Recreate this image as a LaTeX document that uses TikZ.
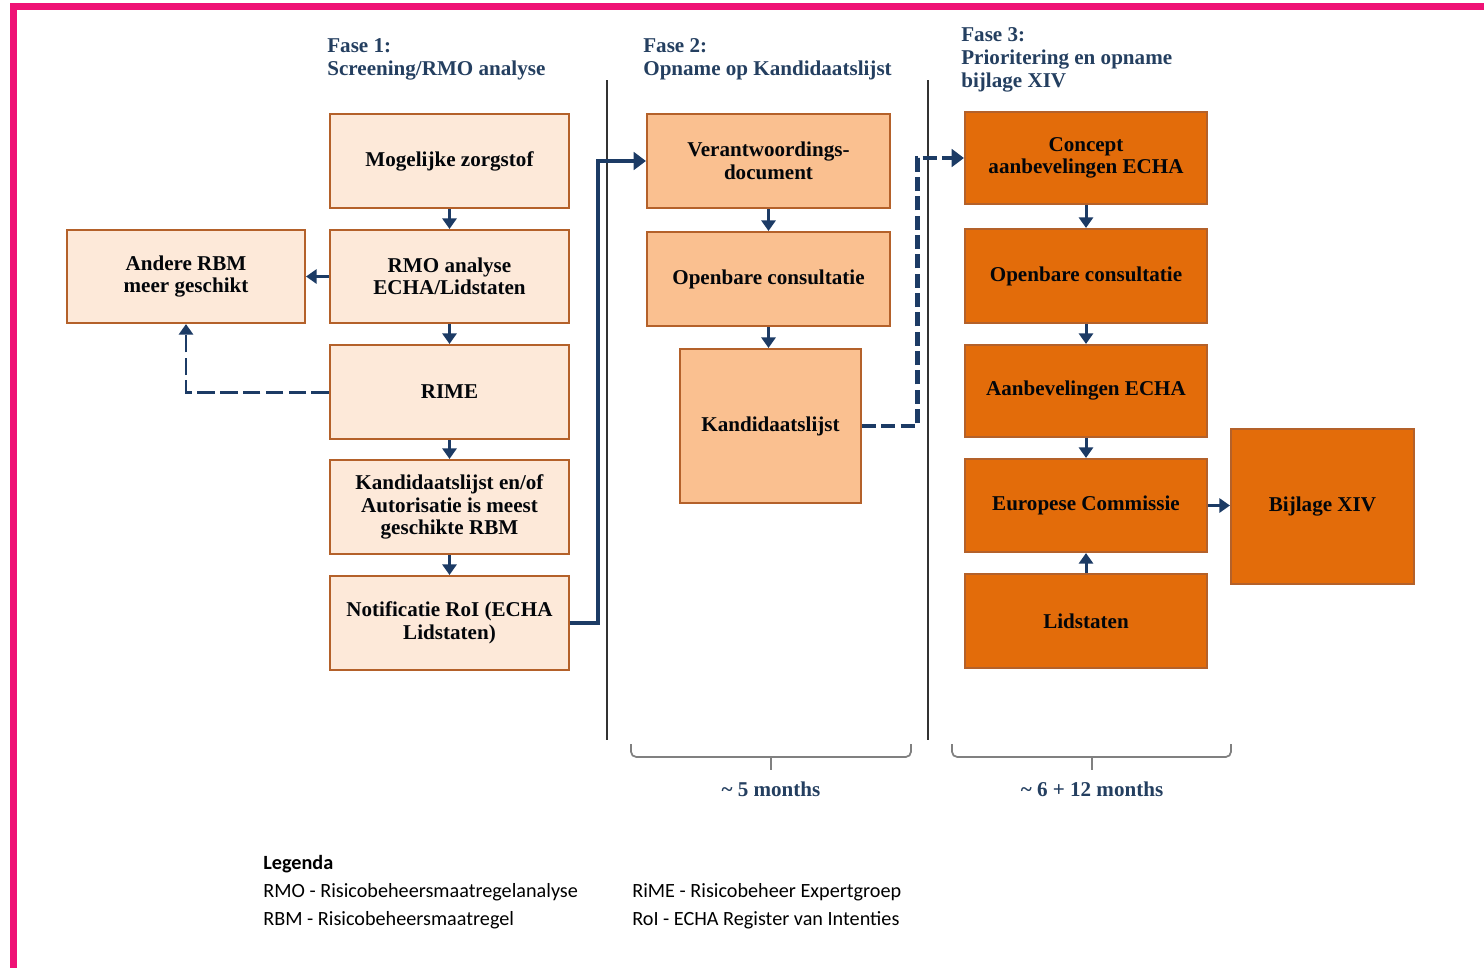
\documentclass[tikz,border=0pt]{standalone}
\usepackage{fontspec}
\setmainfont{Liberation Serif}
\newfontfamily\legendfont{Carlito}
\usepackage{tikz}
\usetikzlibrary{arrows.meta}

\definecolor{lightfill}{HTML}{FDE9D9}
\definecolor{midfill}{HTML}{FAC090}
\definecolor{darkfill}{HTML}{E36C0A}
\definecolor{boxline}{HTML}{B4612A}
\definecolor{navy}{HTML}{1C3B65}
\definecolor{headnavy}{HTML}{243F60}
\definecolor{framepink}{HTML}{EF1275}

\tikzset{
  box/.style={draw=boxline, line width=1.2pt, align=center, inner sep=2pt,
    font=\fontsize{12}{12.8}\selectfont\bfseries, text=black!90!navy},
  pale/.style={box, fill=lightfill},
  mid/.style={box, fill=midfill},
  dark/.style={box, fill=darkfill},
  arr/.style={navy, line width=1.7pt, -{Triangle[length=6pt,width=8pt]}},
  dasharr/.style={arr, dash pattern=on 10pt off 3pt},
  bigarr/.style={navy, line width=2.8pt, -{Triangle[length=7pt,width=10pt]}},
  bigdash/.style={bigarr, dash pattern=on 8pt off 3pt},
  head/.style={anchor=north west, align=left, text=headnavy, inner sep=0pt,
    font=\fontsize{12}{13.2}\selectfont\bfseries},
  brace/.style={gray, line width=1pt, rounded corners=3pt},
  legend/.style={anchor=west, inner sep=0pt, font=\legendfont\fontsize{11.5}{13}\selectfont}
}

\begin{document}
\begin{tikzpicture}[x=0.02cm, y=-0.02cm]
            \useasboundingbox (0,0) rectangle (1484,968);
            % frame
            \fill[framepink] (10,3) rectangle (1484,10);
            \fill[framepink] (10,3) rectangle (17,968);

            % phase headings
            \node[head] (fase1) at (327,38) {Fase 1:\\Screening/RMO analyse};
            \node[head] (fase2) at (643,38) {Fase 2:\\Opname op Kandidaatslijst};
            \node[head] (fase3) at (961,27) {Fase 3:\\Prioritering en opname\\bijlage XIV};

            % separators
            \draw[black!80, line width=1.1pt] (607,80) -- (607,740);
            \draw[black!80, line width=1.1pt] (928,80) -- (928,740);

            % fase 1
            \node[pale, minimum width=4.78cm, minimum height=1.88cm] (zorgstof) at (449.5,161) {Mogelijke zorgstof};
            \node[pale, minimum width=4.78cm, minimum height=1.86cm] (rmo) at (449.5,276.5) {RMO analyse\\ECHA/Lidstaten};
            \node[pale, minimum width=4.78cm, minimum height=1.88cm] (rime) at (449.5,392) {RIME};
            \node[pale, minimum width=4.78cm, minimum height=1.88cm] (kandauto) at (449.5,507) {Kandidaatslijst en/of\\Autorisatie is meest\\geschikte RBM};
            \node[pale, minimum width=4.78cm, minimum height=1.88cm] (notif) at (449.5,623) {Notificatie RoI (ECHA\\Lidstaten)};
            \node[pale, minimum width=4.76cm, minimum height=1.86cm] (andere) at (186,276.5) {Andere RBM\\meer geschikt};

            % fase 2
            \node[mid, minimum width=4.86cm, minimum height=1.88cm] (verant) at (768.5,161) {Verantwoordings-\\document};
            \node[mid, minimum width=4.86cm, minimum height=1.88cm] (consult2) at (768.5,279) {Openbare consultatie};
            \node[mid, minimum width=3.62cm, minimum height=3.08cm] (kandlijst) at (770.5,426) {Kandidaatslijst};

            % fase 3
            \node[dark, minimum width=4.84cm, minimum height=1.84cm] (concept) at (1086,158) {Concept\\aanbevelingen ECHA};
            \node[dark, minimum width=4.84cm, minimum height=1.88cm] (consult3) at (1086,276) {Openbare consultatie};
            \node[dark, minimum width=4.84cm, minimum height=1.84cm] (aanbev) at (1086,391) {Aanbevelingen ECHA};
            \node[dark, minimum width=4.84cm, minimum height=1.86cm] (ec) at (1086,505.5) {Europese Commissie};
            \node[dark, minimum width=4.84cm, minimum height=1.88cm] (lidstaten) at (1086,621) {Lidstaten};
            \node[dark, minimum width=3.66cm, minimum height=3.1cm] (bijlage) at (1322.5,506.5) {Bijlage XIV};

            % arrows
            \draw[arr] (zorgstof) -- (rmo);
            \draw[arr] (rmo) -- (rime);
            \draw[arr] (rime) -- (kandauto);
            \draw[arr] (kandauto) -- (notif);
            \draw[arr] (rmo) -- (andere);
            \draw[dasharr] (rime.west) -| (andere.south);
            \draw[bigarr] (notif.east) -- ++(28,0) |- (verant.west);
            \draw[arr] (verant) -- (consult2);
            \draw[arr] (consult2.south) -- (consult2.south |- kandlijst.north);
            \draw[bigdash] (kandlijst.east) -- ++(55,0) |- (concept.west);
            \draw[arr] (concept) -- (consult3);
            \draw[arr] (consult3) -- (aanbev);
            \draw[arr] (aanbev) -- (ec);
            \draw[arr] (lidstaten) -- (ec);
            \draw[arr] (ec.east) -- (ec.east -| bijlage.west);

            % durations
            \draw[brace] (631,744) -- (631,757) -- (771,757) -- (911,757) -- (911,744);
            \draw[gray, line width=1pt] (771,757) -- (771,770);
            \draw[brace] (952,744) -- (952,757) -- (1092,757) -- (1231,757) -- (1231,744);
            \draw[gray, line width=1pt] (1092,757) -- (1092,770);
            \node[head, anchor=center] (dur2) at (771,789) {\textasciitilde\ 5 months};
            \node[head, anchor=center] (dur3) at (1092,789) {\textasciitilde\ 6 + 12 months};

            % legenda
            \node[legend, font=\legendfont\bfseries\fontsize{11.5}{13}\selectfont] (leg) at (263,864) {Legenda};
            \node[legend] (leg1) at (263,892) {RMO - Risicobeheersmaatregelanalyse};
            \node[legend] (leg2) at (263,920) {RBM - Risicobeheersmaatregel};
            \node[legend] (leg3) at (632,892) {RiME - Risicobeheer Expertgroep};
            \node[legend] (leg4) at (632,920) {RoI - ECHA Register van Intenties};
        \end{tikzpicture}
\end{document}
